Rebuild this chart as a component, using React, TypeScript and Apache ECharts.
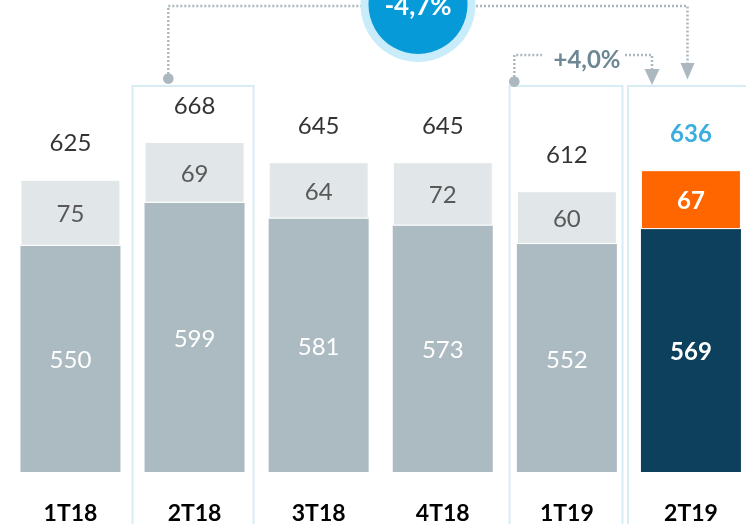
import React, { useEffect, useRef } from "react";
import * as echarts from "echarts";

const categories = ["1T18", "2T18", "3T18", "4T18", "1T19", "2T19"];
const baseValues = [550, 599, 581, 573, 552, 569];
const topValues = [75, 69, 64, 72, 60, 67];
const totals = [625, 668, 645, 645, 612, 636];
const axisMin = 293;
const axisMax = 693;

const GREY = "#acbac1";
const LIGHT = "#e1e6e9";
const NAVY = "#0c405d";
const ORANGE = "#ff6600";
const BLUE = "#0a9ad8";
const DOT = "#abb8bf";
const FRAME = "#d8ecf5";
const FONT = "Lato, 'Open Sans', sans-serif";

export default function App() {
  const ref = useRef<HTMLDivElement>(null);
  useEffect(() => {
    document.body.style.margin = "0";
    const chart = echarts.init(ref.current!, undefined, { renderer: "svg" });
    const last = categories.length - 1;
    const dotted = { stroke: DOT, lineWidth: 2.5, lineDash: [2, 2], fill: null };
    chart.setOption({
      animation: false,
      textStyle: { fontFamily: FONT },
      grid: { left: 8.4, width: 744.6, top: 120, bottom: 52, outerBoundsMode: "none", containLabel: false },
      xAxis: {
        type: "category",
        data: categories,
        axisLine: { show: false },
        axisTick: { show: false },
        axisLabel: { color: "#000", fontWeight: "bold", fontSize: 23, margin: 28, fontFamily: FONT },
      },
      yAxis: { type: "value", min: axisMin, max: axisMax, show: false, splitLine: { show: false } },
      series: [
        {
          type: "bar",
          stack: "s",
          barWidth: 100,
          clip: true,
          data: baseValues.map((v, i) => ({
            value: v,
            itemStyle: { color: i === last ? NAVY : GREY },
            label: i === last ? { fontWeight: "bold" } : undefined,
          })),
          label: { show: true, position: "inside", color: "#fff", fontSize: 24, fontFamily: FONT },
        },
        {
          type: "bar",
          stack: "s",
          barWidth: 100,
          data: topValues.map((v, i) => ({
            value: v,
            itemStyle: { color: i === last ? ORANGE : LIGHT },
            label: i === last ? { color: "#fff", fontWeight: "bold" } : undefined,
          })),
          itemStyle: { borderColor: "#fff", borderWidth: 1 },
          label: { show: true, position: "inside", color: "#595959", fontSize: 24, fontFamily: FONT },
        },
        {
          type: "scatter",
          symbolSize: 0.1,
          itemStyle: { color: "transparent" },
          data: totals.map((v, i) => ({
            value: [categories[i], v],
            label: i === last ? { color: BLUE, fontWeight: "bold" } : undefined,
          })),
          label: {
            show: true,
            position: "inside",
            offset: [0, -38],
            color: "#000",
            fontSize: 24,
            fontFamily: FONT,
            formatter: (p: any) => String(p.value[1]),
          },
        },
      ],
      graphic: [
        { type: "rect", shape: { x: 132.5, y: 86, width: 121, height: 500 }, style: { fill: null, stroke: FRAME, lineWidth: 2 } },
        { type: "rect", shape: { x: 509.5, y: 86, width: 113, height: 500 }, style: { fill: null, stroke: FRAME, lineWidth: 2 } },
        { type: "rect", shape: { x: 628, y: 86, width: 140, height: 500 }, style: { fill: null, stroke: FRAME, lineWidth: 2 } },
        { type: "polyline", shape: { points: [[168.3, 78], [168.3, 6], [361, 6]] }, style: dotted },
        { type: "polyline", shape: { points: [[476, 6], [687.5, 6], [687.5, 64]] }, style: dotted },
        { type: "polygon", shape: { points: [[680.5, 63], [694.5, 63], [687.5, 79.5]] }, style: { fill: DOT } },
        { type: "circle", shape: { cx: 168.3, cy: 78.7, r: 5.3 }, style: { fill: DOT } },
        { type: "polyline", shape: { points: [[514.3, 81], [514.3, 55], [542, 55]] }, style: dotted },
        { type: "polyline", shape: { points: [[625, 55], [652, 55], [652, 70]] }, style: dotted },
        { type: "polygon", shape: { points: [[644.5, 69], [659.5, 69], [652, 85]] }, style: { fill: DOT } },
        { type: "circle", shape: { cx: 514.3, cy: 81.7, r: 5.3 }, style: { fill: DOT } },
        { type: "circle", shape: { cx: 418, cy: 4.5, r: 57.5 }, style: { fill: "#c8ecfa" } },
        { type: "circle", shape: { cx: 418, cy: 4.5, r: 49.5 }, style: { fill: "#069ad8" } },
        {
          type: "text",
          x: 418,
          y: 5,
          style: {
            text: "-4,7%",
            fill: "#fff",
            fontSize: 26,
            fontWeight: "bold",
            fontFamily: FONT,
            align: "center",
            verticalAlign: "middle",
          },
        },
        {
          type: "text",
          x: 587,
          y: 58,
          style: {
            text: "+4,0%",
            fill: "#6e8794",
            fontSize: 24,
            fontWeight: "bold",
            fontFamily: FONT,
            align: "center",
            verticalAlign: "middle",
          },
        },
      ],
    });
    return () => chart.dispose();
  }, []);
  return <div ref={ref} style={{ position: "fixed", left: 0, top: 0, width: 746, height: 524 }} />;
}
